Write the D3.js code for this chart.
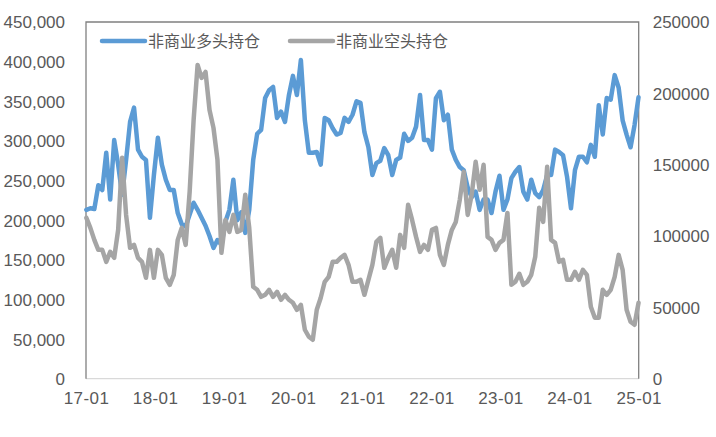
<!DOCTYPE html>
<html>
<head>
<meta charset="utf-8">
<script src="https://cdn.jsdelivr.net/npm/d3@7"></script>
<style>
  body { margin: 0; background: #fff; }
  svg text { font-family: "Liberation Sans", Arial, "Noto Sans CJK SC", sans-serif; fill: #595959; }
</style>
</head>
<body>
<svg id="chart" width="716" height="437"></svg>
<script>
const width = 716;
const height = 437;

// sampled every 3 weeks, starting 2017-01-03
const startDate = '2017-01-03';
const stepDays = 21;

// 非商业多头持仓 (left axis), thousands
const longPos = [
  213, 215, 214, 244, 238, 285, 226, 301, 270, 232, 276, 324, 342, 289, 280, 276, 203, 257, 304, 270,
  251, 238, 238, 209, 195, 192, 207, 222, 213, 203, 193, 180, 165, 175, 169, 198, 213, 251, 200, 210,
  184, 213, 276, 309, 314, 354, 364, 368, 329, 337, 324, 358, 382, 358, 402, 326, 285, 285, 286, 270,
  329, 326, 316, 308, 310, 329, 324, 333, 350, 348, 311, 292, 257, 272, 275, 291, 282, 257, 276, 279,
  309, 300, 304, 318, 358, 301, 301, 289, 354, 362, 326, 333, 289, 276, 267, 263, 241, 229, 236, 213,
  226, 226, 209, 236, 256, 213, 226, 253, 261, 267, 236, 226, 251, 234, 229, 238, 257, 257, 289, 286,
  282, 255, 215, 263, 280, 280, 273, 295, 280, 345, 308, 354, 352, 383, 367, 326, 308, 292, 320, 355
];

// 非商业空头持仓 (right axis), thousands
const shortPos = [
  112.7, 105.7, 97.3, 90.3, 90.3, 81.9, 88.9, 84.7, 104.3, 154.8, 114.8, 91.7, 93.8, 84.7, 81.9, 70.7, 90.3, 70.7, 90.3, 86.8,
  70.7, 65.8, 72.8, 97.3, 105.7, 93.8, 131.0, 181.4, 219.9, 210.8, 215.0, 188.4, 175.8, 153.4, 88.2, 111.3, 102.9, 114.8, 102.9, 104.3,
  128.9, 105.7, 64.4, 62.3, 57.4, 58.8, 62.3, 57.4, 60.9, 55.3, 58.8, 55.3, 53.2, 48.3, 51.8, 34.3, 29.4, 27.3, 48.3, 56.7,
  67.9, 71.4, 81.9, 81.9, 84.7, 86.8, 79.8, 67.9, 67.9, 69.3, 58.8, 69.3, 79.8, 95.9, 98.7, 77.7, 84.7, 90.3, 77.7, 100.8,
  91.7, 121.9, 111.3, 99.4, 88.9, 93.8, 90.3, 104.3, 105.7, 86.8, 79.8, 93.8, 104.3, 109.9, 125.4, 145.0, 114.8, 128.9, 152.0, 132.4,
  149.9, 99.4, 97.3, 90.3, 95.2, 97.3, 116.2, 65.8, 67.9, 73.5, 65.8, 67.9, 72.8, 85.4, 119.8, 109.9, 148.5, 97.3, 95.2, 81.9,
  83.3, 69.3, 69.3, 74.9, 69.3, 76.3, 72.8, 50.4, 42.7, 42.7, 62.3, 58.8, 62.3, 71.4, 86.8, 76.3, 48.3, 39.9, 37.8, 53.2
];

const seriesNames = ['非商业多头持仓', '非商业空头持仓'];
const colors = ['#5B9BD5', '#A5A5A5'];
const yearTicks = ['2017', '2018', '2019', '2020', '2021', '2022', '2023', '2024', '2025'];

const parse = d3.timeParse('%Y-%m-%d');
const t0 = parse(startDate);
const dates = longPos.map((d, i) => d3.timeDay.offset(t0, i * stepDays));

const margin = { left: 86, right: 716 - 638.7, top: 22, bottom: 437 - 378.7 };

const x = d3.scaleTime()
  .domain([new Date(2017, 0, 1), new Date(2025, 0, 1)])
  .range([margin.left, width - margin.right]);

const yL = d3.scaleLinear().domain([0, 450000]).range([height - margin.bottom, margin.top]);
const yR = d3.scaleLinear().domain([0, 250000]).range([height - margin.bottom, margin.top]);

const svg = d3.select('#chart');

// left axis labels
const leftAxis = svg.append('g')
  .attr('transform', `translate(${margin.left},0)`)
  .call(d3.axisLeft(yL).tickValues(d3.range(0, 450001, 50000)).tickFormat(d3.format(',')).tickSize(0).tickPadding(21));
leftAxis.select('.domain').remove();
leftAxis.selectAll('text').style('font-size', '17px').attr('dy', '0.35em');

// right axis labels
const rightAxis = svg.append('g')
  .attr('transform', `translate(${width - margin.right},0)`)
  .call(d3.axisRight(yR).tickValues(d3.range(0, 250001, 50000)).tickFormat(d3.format('d')).tickSize(0).tickPadding(14));
rightAxis.select('.domain').remove();
rightAxis.selectAll('text').style('font-size', '17px').attr('dy', '0.35em');

// x axis labels
const xAxis = svg.append('g')
  .attr('transform', `translate(0,${height - margin.bottom})`)
  .call(d3.axisBottom(x)
    .tickValues(yearTicks.map(y => new Date(+y, 0, 1)))
    .tickFormat(d3.timeFormat('%y-%m'))
    .tickSize(0).tickPadding(13));
xAxis.select('.domain').remove();
xAxis.selectAll('text').style('font-size', '17px').attr('letter-spacing', '0.4px');

// plot frame
svg.append('line')
  .attr('x1', margin.left).attr('x2', width - margin.right)
  .attr('y1', height - margin.bottom).attr('y2', height - margin.bottom)
  .attr('stroke', '#d9d9d9').attr('stroke-width', 1.2);
svg.append('path')
  .attr('d', `M${margin.left},${height - margin.bottom}V${margin.top}H${width - margin.right}V${height - margin.bottom}`)
  .attr('fill', 'none').attr('stroke', '#808080').attr('stroke-width', 1.3);

// the two lines, short position drawn on top
const lineL = d3.line().x((d, i) => x(dates[i])).y(d => yL(d * 1000));
const lineR = d3.line().x((d, i) => x(dates[i])).y(d => yR(d * 1000));

svg.append('path')
  .datum(longPos)
  .attr('d', lineL)
  .attr('fill', 'none')
  .attr('stroke', colors[0])
  .attr('stroke-width', 4.5)
  .attr('stroke-linejoin', 'round')
  .attr('stroke-linecap', 'round');

svg.append('path')
  .datum(shortPos)
  .attr('d', lineR)
  .attr('fill', 'none')
  .attr('stroke', colors[1])
  .attr('stroke-width', 4.5)
  .attr('stroke-linejoin', 'round')
  .attr('stroke-linecap', 'round');

// legend
const legendX = [102, 290];
const legend = svg.append('g').selectAll('g')
  .data(seriesNames)
  .join('g')
  .attr('transform', (d, i) => `translate(${legendX[i]},41)`);

legend.append('line')
  .attr('x1', 0).attr('x2', 43)
  .attr('stroke', (d, i) => colors[i])
  .attr('stroke-width', 4.5)
  .attr('stroke-linecap', 'round');

legend.append('text')
  .attr('x', 46)
  .attr('dy', '0.35em')
  .style('font-size', '16px')
  .style('font-family', '"Noto Sans CJK SC", sans-serif')
  .text(d => d);
</script>
</body>
</html>
